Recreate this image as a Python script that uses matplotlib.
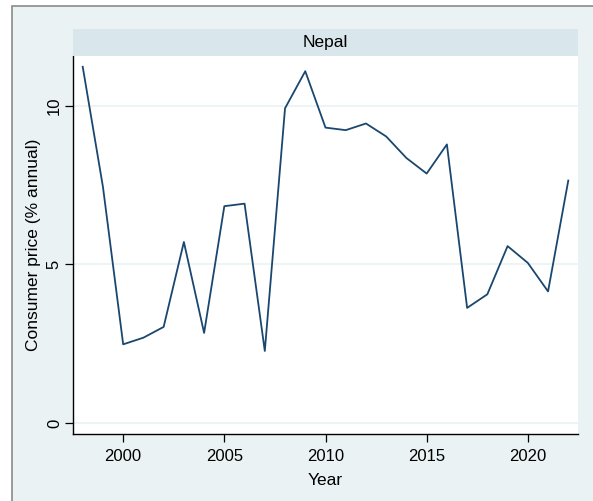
import matplotlib
matplotlib.use("Agg")
import matplotlib.pyplot as plt
from matplotlib.patches import Rectangle

years = list(range(1998, 2023))
cpi = [11.24, 7.45, 2.48, 2.69, 3.03, 5.71, 2.84, 6.84, 6.92, 2.27, 9.93, 11.10,
       9.32, 9.24, 9.45, 9.04, 8.36, 7.87, 8.79, 3.63, 4.06, 5.58, 5.05, 4.15, 7.65]
xticks = [2000, 2005, 2010, 2015, 2020]
yticks = [0, 5, 10]
panel = "Nepal"

plt.rcParams['font.family'] = ['Liberation Sans', 'DejaVu Sans']

W, H = 593, 501
fig = plt.figure(figsize=(W / 100, H / 100), dpi=100, facecolor='white')

bg = '#EAF2F3'

def fx(px):
    return px / W

def fy(py):
    return 1 - py / H

bax = fig.add_axes([0, 0, 1, 1], zorder=-10)
bax.set_xlim(0, W)
bax.set_ylim(H, 0)
bax.axis('off')
bax.add_patch(Rectangle((12, 6), W + 20, H + 20, facecolor=bg,
                        edgecolor='#8a8a8a', linewidth=1.2))

L, R = 73, 578
T, B = 56, 434
ax = fig.add_axes([fx(L), fy(B), fx(R) - fx(L), fy(T) - fy(B)])
ax.set_facecolor('white')
ax.plot(years, cpi, color='#1A476F', linewidth=1.3)
ax.set_xlim(1997.52, 2022.48)
ax.set_ylim(-0.35, 11.58)
ax.set_xticks(xticks)
ax.set_yticks(yticks)
ax.grid(axis='y', color=bg, linewidth=1.2)
ax.set_axisbelow(True)
for s in ['top', 'right']:
    ax.spines[s].set_visible(False)
for s in ['left', 'bottom']:
    ax.spines[s].set_color('black')
    ax.spines[s].set_linewidth(1.0)
ax.tick_params(axis='both', labelsize=12, length=6, width=0.9, color='black')
ax.tick_params(axis='x', pad=5)
ax.tick_params(axis='y', pad=2)
for lab in ax.get_yticklabels():
    lab.set_rotation(90)
    lab.set_va('center')
ax.set_xlabel('Year', fontsize=12.5, labelpad=6)
ax.set_ylabel('Consumer price (% annual)', fontsize=12.5, labelpad=4)

sax = fig.add_axes([fx(L), fy(T), fx(R) - fx(L), fy(29) - fy(T)])
sax.set_facecolor('#D9E6EB')
sax.set_xticks([])
sax.set_yticks([])
for s in sax.spines.values():
    s.set_visible(False)
sax.text(0.5, 0.5, panel, ha='center', va='center', fontsize=12.5,
         transform=sax.transAxes)

fig.savefig('out.png', dpi=100, facecolor='white')
